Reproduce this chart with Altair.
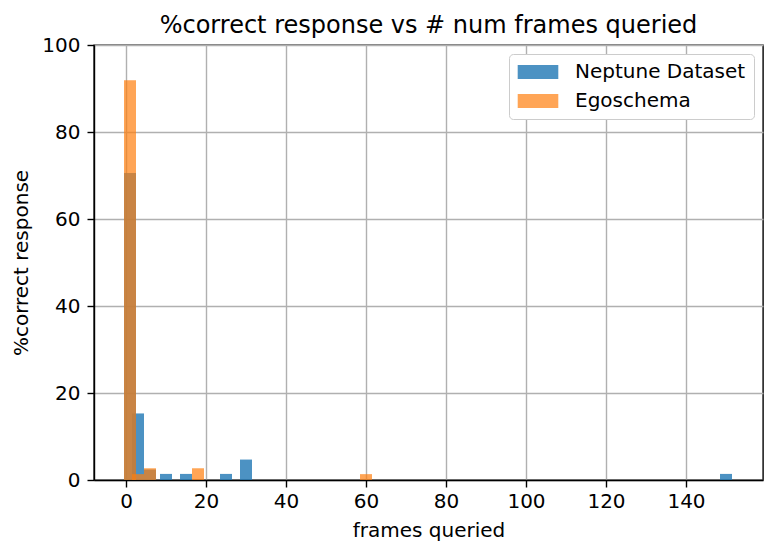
import altair as alt
import pandas as pd

# Data
neptune_frames = [1, 3, 6, 10, 15, 25, 30, 150]
neptune_pct = [70.6, 15.3, 2.4, 1.4, 1.4, 1.4, 4.7, 1.4]
ego_frames = [1, 3, 6, 18, 60]
ego_pct = [91.9, 1.35, 2.7, 2.7, 1.35]
series_names = ["Neptune Dataset", "Egoschema"]
series_colors = ["#1f77b4", "#ff7f0e"]
series_opacity = [0.8, 0.7]
x_ticks = [0, 20, 40, 60, 80, 100, 120, 140]
y_ticks = [0, 20, 40, 60, 80, 100]
bar_width = 3

rows = []
for f, p in zip(neptune_frames, neptune_pct):
    rows.append({"series": series_names[0], "frames": f, "pct": p, "order": 0})
for f, p in zip(ego_frames, ego_pct):
    rows.append({"series": series_names[1], "frames": f, "pct": p, "order": 1})
df = pd.DataFrame(rows)

FONT = "DejaVu Sans"

bars = alt.Chart(df).transform_calculate(
    x0=f"datum.frames - {bar_width / 2}",
    x1=f"datum.frames + {bar_width / 2}",
).mark_rect(stroke=None).encode(
    x=alt.X("x0:Q",
            scale=alt.Scale(domain=[-8, 159.25], nice=False, zero=False),
            axis=alt.Axis(values=x_ticks, title="frames queried", format="d")),
    x2="x1:Q",
    y=alt.Y("pct:Q", stack=None,
            scale=alt.Scale(domain=[0, 100], nice=False),
            axis=alt.Axis(values=y_ticks, title="%correct response", format="d")),
    y2=alt.datum(0),
    color=alt.Color("series:N",
                    scale=alt.Scale(domain=series_names, range=series_colors),
                    legend=alt.Legend(title=None)),
    opacity=alt.Opacity("series:N",
                        scale=alt.Scale(domain=series_names, range=series_opacity),
                        legend=alt.Legend(title=None)),
    order=alt.Order("order:Q"),
)

chart = bars.properties(
    width=669,
    height=435,
    autosize=alt.AutoSizeParams(type="none"),
    padding={"left": 86, "top": 37, "right": 6, "bottom": 64},
    title=alt.TitleParams(
        text="%correct response vs # num frames queried",
        font=FONT, fontSize=24, fontWeight="normal", color="black",
        anchor="middle", frame="group", offset=-3,
    ),
).configure_view(
    stroke="black", strokeWidth=1.4
).configure_axis(
    labelFont=FONT, labelFontSize=20, labelColor="black",
    titleFont=FONT, titleFontSize=20, titleFontWeight="normal", titleColor="black",
    tickColor="black", tickWidth=1.4, tickSize=7,
    domainColor="black", domainWidth=1.4,
    grid=True, gridColor="#b0b0b0", gridWidth=1.4,
    zindex=1,
).configure_axisX(
    labelPadding=4, titlePadding=9,
).configure_axisY(
    labelPadding=7, titlePadding=10,
).configure_legend(
    orient="top-right", offset=9, padding=8,
    labelFont=FONT, labelFontSize=20, labelColor="black", labelLimit=400,
    symbolType="M-2.9,-1L2.9,-1L2.9,1L-2.9,1Z", symbolSize=196,
    symbolStrokeWidth=0, symbolOffset=11, labelOffset=27,
    rowPadding=9, strokeColor="#cccccc", cornerRadius=4, fillColor="white",
)

chart.save("out.html", embed_options={"renderer": "svg", "actions": False})
